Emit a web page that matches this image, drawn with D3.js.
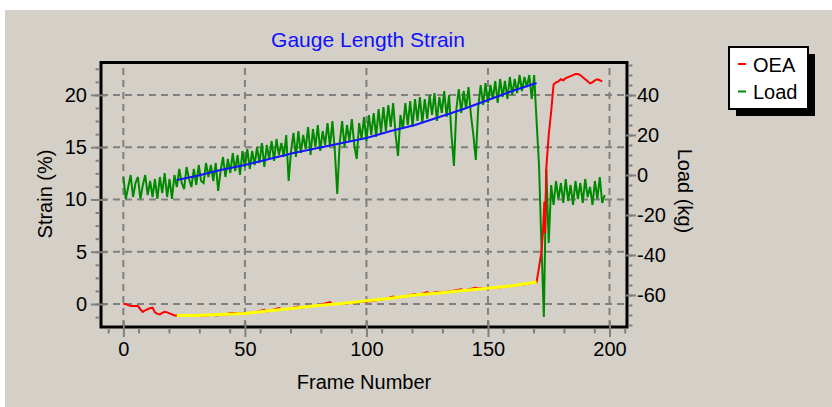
<!DOCTYPE html>
<html>
<head>
<meta charset="utf-8">
<script src="https://cdn.jsdelivr.net/npm/d3@7"></script>
<style>
  body { margin: 0; background: #fff; }
  svg { display: block; }
  text { font-family: "Liberation Sans", Arial, sans-serif; fill: #000; }
</style>
</head>
<body>
<div id="chart"></div>
<script>
// load (kg), one value per frame, frame = index
const loadKg = [
  -1, -12, -6, 0, -11, -4, -1, -12, -5, 0, -10, -3, -11, -2, -12, -1, -9, 1, -11, -2, -12, 0,
  -6, 3, -4, -7, 4, -2, -6, 3, -5, 5, -3, -4, 6, -1, 5, -3, 6, -8,
  2, 9, -1, 8, 1, 11, 2, 10, 0, 12, 4, 13, 3,
  12, 5, 14, 6, 16, 4, 15, 8, 17, 7, 18, 10, 16,
  9, 20, -3, 12, 21, 9, 22, 11, 20, 13, 24, 10, 23, 14, 25, 12, 22, 15, 26, 14, 27, 12,
  -9.5, 16,
  27, 14, 25, 17, 28, 15, 8, 26, 18, 29, 17,
  30, 20, 31, 19, 33, 21, 34, 22, 35, 24, 36, 20, 9.5, 30, 23,
  36, 25, 37, 24, 38, 27, 39, 26, 38, 28, 40, 30, 41, 27, 39, 31, 42, 29, 40, 20, 4.5, 33,
  43, 31, 42, 33, 44, 30, 20, 7.5, 34, 45, 35, 46, 36,
  45, 38, 47, 36, 48, 39, 47, 38, 49, 40, 48, 41, 50, 42, 49, 44, 50, 38, 50,
  27, 5, -35, -71, 3, -34, -5, -15, -3, -12, -4, -14, -2, -13, -5, -15, -3, -12, -4, -14,
  -2, -11, -6, -15, -3, -12, -1, -14, -10
];

// straight fit of load (kg)
const fitFrames = [22, 30, 40, 50, 60, 70, 80, 90, 100, 110, 120, 130, 140, 150, 160, 170];
const loadFit = [-2.5, -0.5, 2.5, 5, 8, 11, 13.5, 16, 18.5, 22, 25, 29, 33, 37.5, 42, 46];

// OEA strain (%)
const oeaFrames = [
  0, 1, 2, 3, 4, 5, 6, 7, 8, 9, 10, 11, 12, 13, 14, 15, 16, 17, 18, 19, 20, 21,
  22, 26, 30, 34, 36, 37, 38, 42, 44, 45, 46, 47, 50, 54, 58, 59, 61, 64, 65, 68,
  72, 73, 76, 80, 85, 86, 89, 92, 95, 98, 99, 104, 108, 111, 112, 116, 120, 121,
  125, 126, 129, 130, 134, 139, 140, 145, 146, 150, 155, 160, 165, 168, 170,
  171, 172, 172.6, 173.2, 173.5, 174, 175, 176, 177, 178, 179, 180, 181, 182, 183,
  184, 185, 186, 187, 188, 189, 190, 191, 192, 193, 194, 195, 196, 197
];
const oeaStrain = [
  0, 0, -0.1, -0.2, -0.2, -0.2, -0.2, -0.5, -0.75, -0.6, -0.5, -0.4, -0.35, -0.8, -0.95, -1.0, -0.85, -0.75, -0.8, -0.9, -1.0, -1.1,
  -1.1, -1.1, -1.1, -1.1, -1.05, -1.0, -1.1, -1.0, -0.85, -0.85, -0.85, -0.9, -0.9, -0.8, -0.55, -0.7, -0.6, -0.4, -0.5, -0.45,
  -0.25, -0.35, -0.25, -0.15, 0.18, 0.0, 0.0, 0.08, 0.12, 0.28, 0.2, 0.35, 0.5, 0.7, 0.6, 0.75, 0.95, 0.85,
  1.15, 1.0, 1.15, 1.1, 1.2, 1.4, 1.3, 1.55, 1.5, 1.5, 1.6, 1.75, 1.9, 2.0, 2.1,
  3.5, 5.0, 6.8, 9.8, 6.8, 13.0, 16.2, 18.4, 21.0, 21.2, 21.3, 21.5, 21.4, 21.6, 21.7,
  21.8, 21.9, 22.0, 22.0, 21.9, 21.7, 21.5, 21.3, 21.1, 21.2, 21.4, 21.5, 21.4, 21.3
];

// straight fit of OEA (%)
const oeaFit = [-1.1, -1.1, -1.0, -0.9, -0.65, -0.4, -0.15, 0.05, 0.3, 0.55, 0.85, 1.05, 1.3, 1.5, 1.75, 2.1];

const xTicks = [0, 50, 100, 150, 200];
const strainTicks = [0, 5, 10, 15, 20];
const loadTicks = [-60, -40, -20, 0, 20, 40];

const W = 832, H = 407;
const pL = 101, pR = 627, pT = 62.5, pB = 327;

const svg = d3.select("#chart").append("svg")
  .attr("width", W).attr("height", H);

svg.append("rect")
  .attr("x", 5).attr("y", 10).attr("width", W - 5).attr("height", H - 10)
  .attr("fill", "#d4d0c8");

const x = d3.scaleLinear().domain([-9.2, 207.2]).range([pL, pR]);
const yL = d3.scaleLinear().domain([-2.2, 23.1]).range([pB, pT]);
const yR = d3.scaleLinear().domain([-76, 56.25]).range([pB, pT]);

// title
svg.append("text")
  .attr("x", 368).attr("y", 47)
  .attr("text-anchor", "middle")
  .style("font-size", "21px")
  .style("fill", "#1010ff")
  .text("Gauge Length Strain");

// grid
const grid = svg.append("g")
  .attr("stroke", "#808080").attr("stroke-width", 2)
  .attr("stroke-dasharray", "7,5");
grid.selectAll(".gx").data(xTicks).join("line")
  .attr("x1", d => x(d)).attr("x2", d => x(d))
  .attr("y1", pB).attr("y2", pT);
grid.selectAll(".gy").data(strainTicks).join("line")
  .attr("x1", pL).attr("x2", pR)
  .attr("y1", d => yL(d)).attr("y2", d => yL(d));

svg.append("clipPath").attr("id", "clip")
  .append("rect").attr("x", pL).attr("y", pT)
  .attr("width", pR - pL).attr("height", pB - pT);

const plot = svg.append("g").attr("clip-path", "url(#clip)");

const loadLine = d3.line().x((d, i) => x(i)).y(d => yR(d));
plot.append("path").datum(loadKg)
  .attr("d", loadLine)
  .attr("fill", "none").attr("stroke", "#008a00").attr("stroke-width", 2);

plot.append("path").datum(loadFit)
  .attr("d", d3.line().x((d, i) => x(fitFrames[i])).y(d => yR(d)))
  .attr("fill", "none").attr("stroke", "#1414ff").attr("stroke-width", 2);

plot.append("path").datum(oeaStrain)
  .attr("d", d3.line().x((d, i) => x(oeaFrames[i])).y(d => yL(d)))
  .attr("fill", "none").attr("stroke", "#ff0000").attr("stroke-width", 2);

plot.append("path").datum(oeaFit)
  .attr("d", d3.line().x((d, i) => x(fitFrames[i])).y(d => yL(d)))
  .attr("fill", "none").attr("stroke", "#ffff00").attr("stroke-width", 3);

// frame
svg.append("rect")
  .attr("x", pL).attr("y", pT)
  .attr("width", pR - pL).attr("height", pB - pT)
  .attr("fill", "none").attr("stroke", "#000").attr("stroke-width", 3);

function styleAxis(g) {
  g.select(".domain").remove();
  g.selectAll(".tick line").attr("stroke", "#808080").attr("stroke-width", 2);
  g.selectAll(".tick text").style("font-size", "20px");
}

// minor ticks
svg.append("g").attr("transform", `translate(0,${pB + 1.5})`)
  .call(d3.axisBottom(x).tickValues(d3.range(-6.25, 207, 12.5)).tickSize(5).tickFormat(""))
  .call(styleAxis);
svg.append("g").attr("transform", `translate(${pL - 1.5},0)`)
  .call(d3.axisLeft(yL).tickValues(d3.range(-1.25, 23, 1.25)).tickSize(4).tickFormat(""))
  .call(styleAxis);
svg.append("g").attr("transform", `translate(${pR + 1.5},0)`)
  .call(d3.axisRight(yR).tickValues(d3.range(-75, 56, 5)).tickSize(4).tickFormat(""))
  .call(styleAxis);

// major ticks and labels
svg.append("g").attr("transform", `translate(0,${pB - 6})`)
  .call(d3.axisBottom(x).tickValues(xTicks).tickSize(16).tickPadding(5).tickFormat(d => String(d)))
  .call(styleAxis);
svg.append("g").attr("transform", `translate(${pL + 6},0)`)
  .call(d3.axisLeft(yL).tickValues(strainTicks).tickSize(16).tickPadding(4).tickFormat(d => String(d)))
  .call(styleAxis);
svg.append("g").attr("transform", `translate(${pR - 1},0)`)
  .call(d3.axisRight(yR).tickValues(loadTicks).tickSize(10).tickPadding(1).tickFormat(d => String(d)))
  .call(styleAxis);

// axis titles
svg.append("text")
  .attr("x", 364).attr("y", 389)
  .attr("text-anchor", "middle")
  .style("font-size", "20px")
  .text("Frame Number");
svg.append("text")
  .attr("transform", "translate(52,194) rotate(-90)")
  .attr("text-anchor", "middle")
  .style("font-size", "20px")
  .text("Strain (%)");
svg.append("text")
  .attr("transform", "translate(678,191) rotate(90)")
  .attr("text-anchor", "middle")
  .style("font-size", "20px")
  .text("Load (kg)");

// legend
const lg = svg.append("g");
lg.append("rect").attr("x", 736).attr("y", 54).attr("width", 79).attr("height", 62).attr("fill", "#000");
lg.append("rect").attr("x", 729).attr("y", 47).attr("width", 79).attr("height", 62)
  .attr("fill", "#fff").attr("stroke", "#000").attr("stroke-width", 2);
const legendItems = [{name: "OEA", color: "#ff0000"}, {name: "Load", color: "#008a00"}];
legendItems.forEach((d, i) => {
  const yy = 64 + i * 27.5;
  lg.append("line").attr("x1", 738).attr("x2", 746).attr("y1", yy).attr("y2", yy)
    .attr("stroke", d.color).attr("stroke-width", 2);
  lg.append("text").attr("x", 753).attr("y", yy + 7.5)
    .style("font-size", "20px").text(d.name);
});
</script>
</body>
</html>
